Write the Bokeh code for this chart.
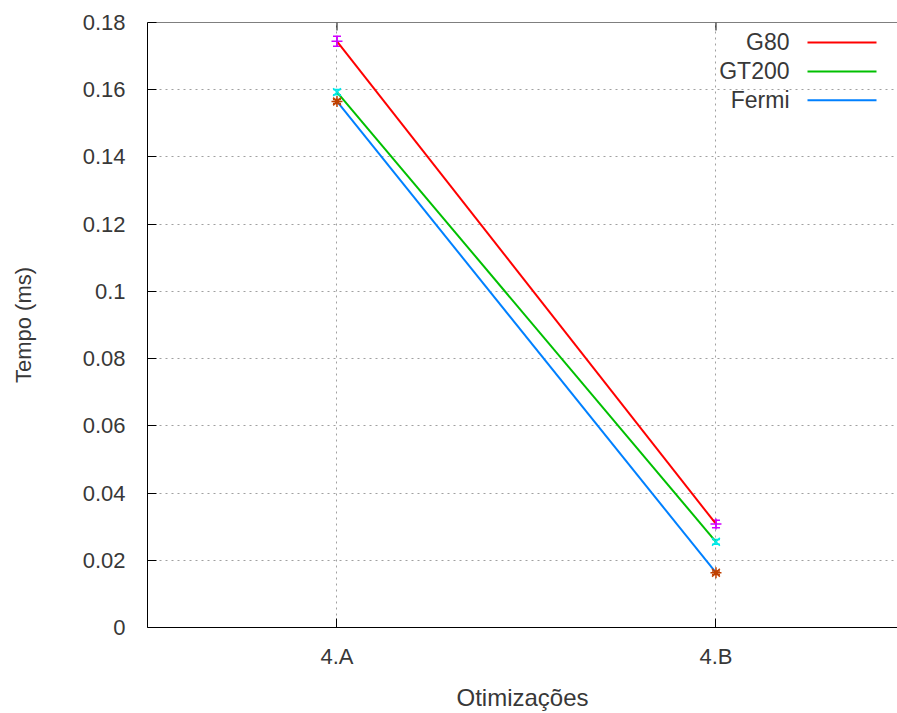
from bokeh.plotting import figure
from bokeh.models import Range1d, FixedTicker, Whisker, TeeHead, ColumnDataSource, Span
from bokeh.embed import file_html
from bokeh.resources import INLINE
from bokeh.core.properties import value

# ---- data ----
categories = ["4.A", "4.B"]
x_pos = [1, 2]
series_names = ["G80", "GT200", "Fermi"]
g80 = [0.1744, 0.0308]
gt200 = [0.1593, 0.0255]
fermi = [0.1565, 0.0163]
g80_err = [0.0015, 0.0011]
gt200_err = [0.0008, 0.0007]
fermi_err = [0.0006, 0.0005]
y_ticks = [0, 0.02, 0.04, 0.06, 0.08, 0.10, 0.12, 0.14, 0.16, 0.18]
y_tick_labels = ["0", "0.02", "0.04", "0.06", "0.08", "0.1", "0.12", "0.14", "0.16", "0.18"]

line_colors = ["#ff0000", "#00c000", "#0080ff"]
err_colors = ["#d000ff", "#00e8e8", "#c04000"]
err_markers = ["cross", "x", "asterisk"]

FONT = "Liberation Sans"
TXT = "#383838"
FS = "22px"

W, H = 897, 713
LB, TB, BB, RB = 147, 22, 85, 0
X0, X1 = 0.5, 2.479
Y0, Y1 = 0.0, 0.18

p = figure(width=W, height=H, output_backend="svg", toolbar_location=None,
           x_range=Range1d(X0, X1), y_range=Range1d(Y0, Y1),
           min_border_left=LB, min_border_right=RB, min_border_top=TB, min_border_bottom=BB,
           background_fill_color="white", border_fill_color="white")
p.outline_line_color = None

# axes
p.xaxis.ticker = FixedTicker(ticks=x_pos)
p.xaxis.major_label_overrides = {x: c for x, c in zip(x_pos, categories)}
p.yaxis.ticker = FixedTicker(ticks=y_ticks)
p.yaxis.major_label_overrides = {t: l for t, l in zip(y_ticks, y_tick_labels)}
for ax in (p.xaxis[0], p.yaxis[0]):
    ax.major_tick_in = 9
    ax.major_tick_out = 0
    ax.minor_tick_line_color = None
    ax.axis_line_color = "black"
    ax.major_tick_line_color = "black"
    ax.major_label_text_font = FONT
    ax.major_label_text_font_size = FS
    ax.major_label_text_color = TXT
    ax.axis_label_text_font = FONT
    ax.axis_label_text_font_size = FS
    ax.axis_label_text_font_style = "normal"
    ax.axis_label_text_color = TXT
p.xaxis.axis_label = "Otimizações"
p.yaxis.axis_label = "Tempo (ms)"
p.xaxis.axis_label_text_font_size = "24px"
p.yaxis.major_label_standoff = 22
p.xaxis.major_label_standoff = 16
p.yaxis.axis_label_standoff = 44
p.xaxis.axis_label_standoff = 12

# grid
p.xgrid.ticker = FixedTicker(ticks=x_pos)
p.ygrid.ticker = FixedTicker(ticks=y_ticks)
for g in (p.xgrid[0], p.ygrid[0]):
    g.grid_line_color = "#a0a0a0"
    g.grid_line_dash = "2 4"
    g.grid_line_width = 1

# top border (right border lies outside the window in the reference)
p.add_layout(Span(location=Y1, dimension="width", line_color="black", line_width=1))

fw = W - LB - RB
fh = H - TB - BB
def px_x(px):
    return X0 + (px - LB) / fw * (X1 - X0)
def px_y(py):
    return Y0 + (TB + fh - py) / fh * (Y1 - Y0)

# mirrored ticks on the top border
p.segment(x0=x_pos, y0=[Y1] * len(x_pos), x1=x_pos, y1=[px_y(TB + 8)] * len(x_pos),
          line_color="black", line_width=1)

series = [g80, gt200, fermi]
errs = [g80_err, gt200_err, fermi_err]

for vals, col in zip(series, line_colors):
    p.line(x_pos, vals, line_color=col, line_width=2)

for vals, er, col, mk in zip(series, errs, err_colors, err_markers):
    src = ColumnDataSource(dict(x=x_pos, y=vals,
                                lo=[v - e for v, e in zip(vals, er)],
                                hi=[v + e for v, e in zip(vals, er)]))
    p.add_layout(Whisker(source=src, base="x", upper="hi", lower="lo", dimension="height",
                         line_color=col, line_width=1.5,
                         upper_head=TeeHead(size=8, line_color=col, line_width=1.5),
                         lower_head=TeeHead(size=8, line_color=col, line_width=1.5)))
    p.scatter(x="x", y="y", source=src, marker=mk, size=11, line_color=col, line_width=1.5)

# gnuplot-style legend (text left, sample right)
leg_rows = [42, 71, 100]
for name, col, ry in zip(series_names, line_colors, leg_rows):
    p.text(x=[px_x(789)], y=[px_y(ry)], text=[name], text_align="right", text_baseline="middle",
           text_font=value(FONT), text_font_size="23px", text_color=TXT)
    p.segment(x0=[px_x(807)], y0=[px_y(ry)], x1=[px_x(876)], y1=[px_y(ry)],
              line_color=col, line_width=2)

open("out.html", "w").write(file_html(p, INLINE))
